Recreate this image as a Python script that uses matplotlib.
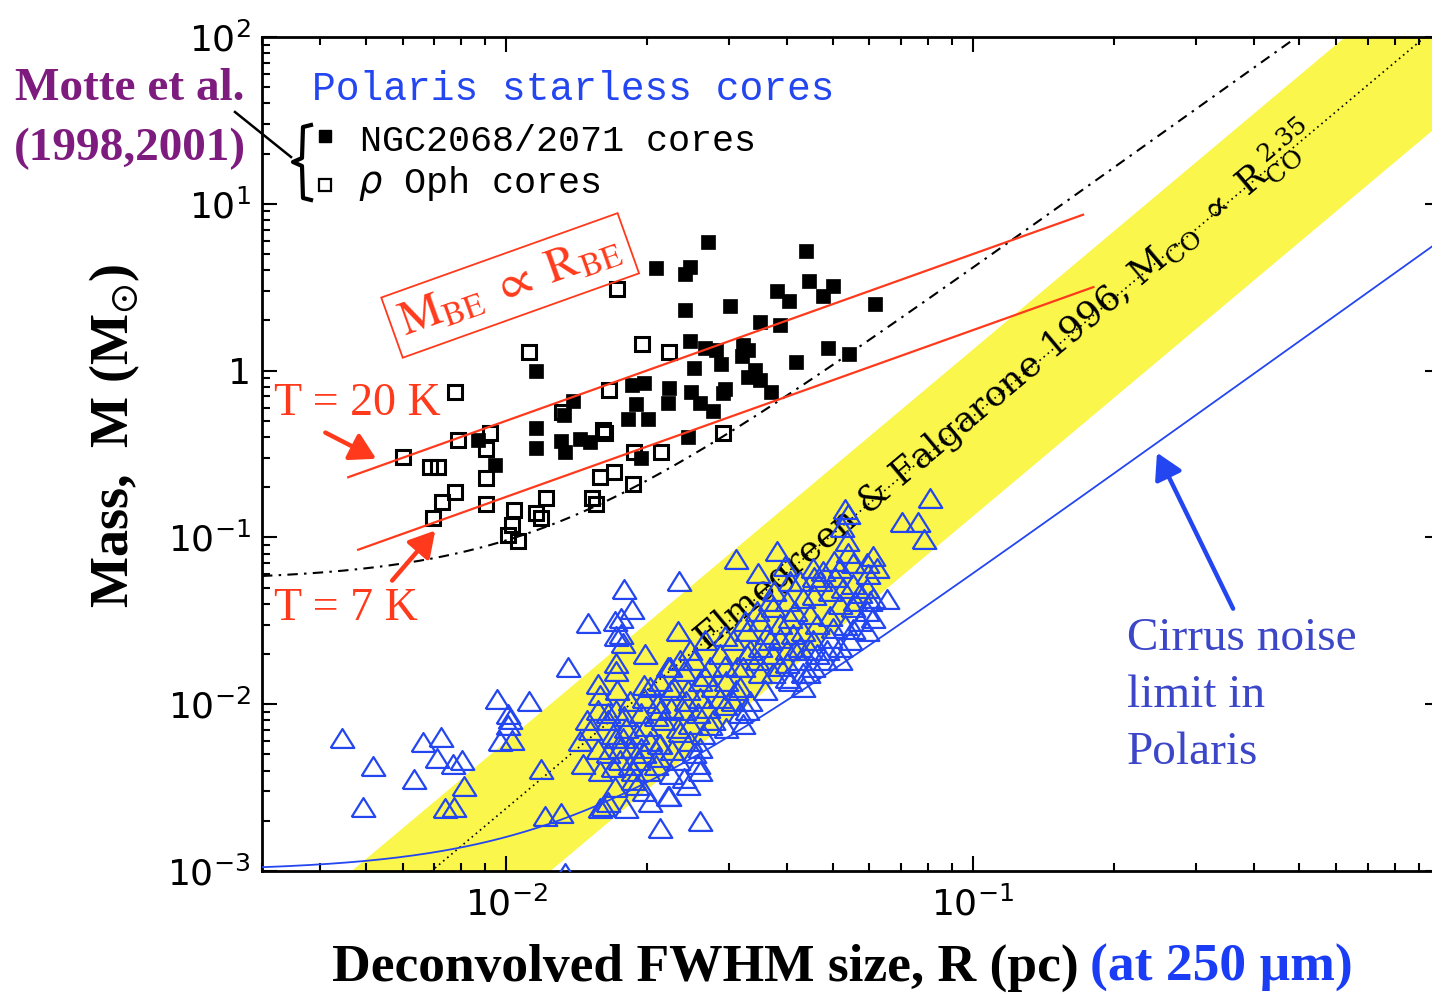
import numpy as np
import matplotlib.pyplot as plt
from matplotlib.lines import Line2D
from matplotlib.ticker import NullFormatter

W, H = 1432, 994

# NGC2068/2071 cores (Motte et al.): FWHM size R [pc], mass M [Msun]
ngc_R = [0.0270, 0.0439, 0.0209, 0.0247, 0.0241, 0.0446, 0.0501, 0.0477, 0.0380, 0.0404,
         0.0617, 0.0241, 0.0302, 0.0350, 0.0386, 0.0247, 0.0266, 0.0281, 0.0322, 0.0330,
         0.0320, 0.0288, 0.0252, 0.0489, 0.0542, 0.0418, 0.0341, 0.0330, 0.0350, 0.0369,
         0.0294, 0.0249, 0.0260, 0.0223, 0.0222, 0.0278, 0.0197, 0.0186, 0.0190, 0.0182,
         0.0201, 0.0245, 0.0194, 0.0116, 0.0139, 0.0133, 0.0116, 0.0116, 0.0131, 0.0134,
         0.0144, 0.0151, 0.0087, 0.00947, 0.0292]
ngc_M = [5.9, 5.2, 4.1, 4.2, 3.8, 3.46, 3.2, 2.8, 3.0, 2.6,
         2.5, 2.3, 2.45, 1.96, 1.88, 1.51, 1.36, 1.32, 1.43, 1.32,
         1.22, 1.09, 1.03, 1.36, 1.25, 1.13, 1.01, 0.92, 0.88, 0.74,
         0.78, 0.74, 0.64, 0.79, 0.64, 0.57, 0.84, 0.82, 0.63, 0.515,
         0.51, 0.40, 0.30, 0.99, 0.66, 0.545, 0.45, 0.345, 0.38, 0.326,
         0.39, 0.375, 0.385, 0.27, 0.735]

# rho Oph cores (Motte et al.)
oph_R = [0.0173, 0.0195, 0.0112, 0.0223, 0.00778, 0.0166, 0.0132, 0.0161, 0.0079, 0.00924,
         0.00905, 0.00602, 0.00687, 0.00715, 0.00905, 0.00778, 0.00729, 0.00697, 0.00905, 0.0122,
         0.0104, 0.0103, 0.0101, 0.0106, 0.0116, 0.0119, 0.0153, 0.0156, 0.0159, 0.0170,
         0.0187, 0.0188, 0.0215, 0.0291, 0.0163]
oph_M = [3.1, 1.45, 1.30, 1.30, 0.74, 0.77, 0.567, 0.443, 0.385, 0.42,
         0.338, 0.305, 0.266, 0.263, 0.228, 0.186, 0.162, 0.130, 0.158, 0.173,
         0.145, 0.118, 0.103, 0.0945, 0.141, 0.130, 0.173, 0.158, 0.231, 0.248,
         0.21, 0.326, 0.326, 0.425, 0.425]

# Polaris starless cores (250 um)
pol_R = [0.00446, 0.00519, 0.00494, 0.00664, 0.00726, 0.00711, 0.0077, 0.00805, 0.00635, 0.00813,
         0.0074, 0.00774, 0.00957, 0.0112, 0.0101, 0.0102, 0.0101, 0.00971, 0.0103, 0.0119,
         0.0121, 0.0131, 0.0159, 0.0161, 0.0134, 0.015, 0.0136, 0.0179, 0.0234, 0.0186,
         0.0176, 0.0171, 0.0172, 0.0176, 0.0178, 0.0233, 0.0198, 0.0172, 0.0157, 0.0173,
         0.0197, 0.0224, 0.0236, 0.0157, 0.0149, 0.0165, 0.0172, 0.0144, 0.0157, 0.0146,
         0.0159, 0.0169, 0.0172, 0.0178, 0.0186, 0.0192, 0.0201, 0.0212, 0.0227, 0.0191,
         0.0203, 0.0223, 0.0181, 0.0214, 0.026, 0.0245, 0.0258, 0.0252, 0.0233, 0.026,
         0.024, 0.0225, 0.0165, 0.0172,
         0.081, 0.0705, 0.0762, 0.0785, 0.0532, 0.054, 0.038, 0.031, 0.0347, 0.0611,
         0.0593, 0.0623, 0.0596, 0.0654, 0.0524, 0.0537, 0.054, 0.0504, 0.0519, 0.0553,
         0.0455, 0.0477, 0.0426, 0.0406, 0.0396, 0.0494, 0.0527, 0.0553, 0.0593, 0.0573,
         0.0611, 0.0519, 0.0553, 0.0593, 0.0573, 0.0611, 0.0593, 0.0553, 0.0432, 0.0448,
         0.0464, 0.0494, 0.0501, 0.040, 0.0373, 0.0406, 0.0386, 0.0345, 0.035, 0.0328,
         0.0362, 0.0386, 0.0412, 0.0432, 0.0455, 0.0426, 0.0464, 0.0487, 0.0519, 0.0519,
         0.040, 0.0373, 0.040, 0.0426, 0.0455, 0.0443, 0.0406, 0.0432, 0.035, 0.0328,
         0.0345, 0.0322, 0.035, 0.0373, 0.0306, 0.0287, 0.0312, 0.0296, 0.0317, 0.0273,
         0.026, 0.0277, 0.0287, 0.0306, 0.0328, 0.0317, 0.0252, 0.024, 0.0222, 0.0214,
         0.0229, 0.0245, 0.026, 0.027, 0.0203, 0.0197, 0.0211, 0.0225, 0.024, 0.0257,
         0.0277, 0.0217, 0.0233, 0.0248, 0.0264, 0.0248, 0.026, 0.0296, 0.0322, 0.0194,
         0.0181, 0.0191, 0.0203, 0.0194, 0.0211, 0.0165, 0.0169, 0.0175, 0.0165, 0.0175,
         0.0187, 0.0197, 0.0187, 0.0197, 0.0222, 0.040, 0.0432,
         0.0375, 0.047, 0.0457, 0.0416, 0.0367, 0.0333, 0.0294, 0.0266, 0.0243, 0.0214,
         0.0199, 0.0179,
         0.0266, 0.0248, 0.0294, 0.0325, 0.0367, 0.0457, 0.0506, 0.0559, 0.0545, 0.0482,
         0.0386, 0.0358, 0.0333, 0.0294, 0.0273, 0.0236, 0.0214, 0.0209, 0.0184, 0.0171,
         0.0151, 0.0159, 0.0184, 0.0209, 0.0225, 0.0310, 0.0416, 0.0448, 0.0494, 0.0532,
         0.0602]
pol_M = [0.0063, 0.00428, 0.00243, 0.00597, 0.00639, 0.00478, 0.0044, 0.00465, 0.00358, 0.00325,
         0.0024, 0.00243, 0.0108, 0.0105, 0.0087, 0.0081, 0.00755, 0.00605, 0.0061, 0.00406,
         0.00214, 0.00224, 0.00239, 0.00246, 0.00097, 0.0308, 0.0166, 0.0493, 0.0551, 0.0374,
         0.033, 0.0317, 0.0258, 0.0265, 0.0234, 0.0276, 0.0201, 0.0176, 0.0133, 0.0121,
         0.0131, 0.0166, 0.0183, 0.0092, 0.0080, 0.0088, 0.0092, 0.00605, 0.0054, 0.0044,
         0.0040, 0.0042, 0.0063, 0.0063, 0.0055, 0.0046, 0.0040, 0.0058, 0.0053, 0.0033,
         0.0026, 0.0028, 0.0024, 0.0018, 0.0020, 0.0033, 0.0044, 0.0051, 0.0046, 0.0040,
         0.0036, 0.0038, 0.0026, 0.0159,
         0.173, 0.123, 0.123, 0.098, 0.149, 0.139, 0.0833, 0.0746, 0.0615, 0.0777,
         0.0706, 0.066, 0.0606, 0.043, 0.115, 0.0957, 0.081, 0.0726, 0.066, 0.070,
         0.066, 0.0632, 0.0551, 0.0551, 0.0678, 0.048, 0.050, 0.0528, 0.050, 0.0461,
         0.0436, 0.040, 0.038, 0.0364, 0.0317, 0.033, 0.0276, 0.0284, 0.0436, 0.0349,
         0.0304, 0.0251, 0.0288, 0.0418, 0.038, 0.033, 0.0304, 0.0364, 0.0317, 0.0276,
         0.0265, 0.0251, 0.0265, 0.0276, 0.0241, 0.0219, 0.0201, 0.021, 0.0219, 0.0183,
         0.021, 0.0201, 0.0176, 0.0183, 0.0166, 0.0153, 0.0138, 0.0126, 0.0219, 0.0201,
         0.0183, 0.0166, 0.0153, 0.0153, 0.0241, 0.0201, 0.0166, 0.0138, 0.0126, 0.0166,
         0.0138, 0.0126, 0.0109, 0.0105, 0.0092, 0.0088, 0.0183, 0.0159, 0.0166, 0.0138,
         0.0126, 0.0121, 0.0109, 0.0095, 0.0126, 0.0109, 0.0101, 0.0095, 0.0092, 0.0088,
         0.0080, 0.0080, 0.0072, 0.0076, 0.0066, 0.0060, 0.0055, 0.0072, 0.0076, 0.0088,
         0.0072, 0.0066, 0.0060, 0.0055, 0.0048, 0.0080, 0.0066, 0.0055, 0.0051, 0.0046,
         0.0040, 0.0051, 0.0035, 0.0030, 0.0028, 0.0144, 0.0153,
         0.048, 0.055, 0.045, 0.0364, 0.0241, 0.021, 0.0169, 0.0148, 0.0105, 0.0092,
         0.0074, 0.0085,
         0.0241, 0.021, 0.0258, 0.0317, 0.0418, 0.0578, 0.0578, 0.0418, 0.0241, 0.0183,
         0.0169, 0.0121, 0.0105, 0.0099, 0.0075, 0.0068, 0.0058, 0.0043, 0.0043, 0.0032,
         0.0070, 0.0114, 0.0105, 0.0085, 0.0121, 0.0121, 0.021, 0.021, 0.034, 0.0297,
         0.0418]

# model relations
be_norm_20K = 50.0      # M_BE = c * R
be_norm_7K = 17.5
be_R_20K = [0.00459, 0.172]
be_R_7K = [0.00482, 0.181]
ef_index = 2.35         # Elmegreen & Falgarone 1996
ef_norm, ef_lo, ef_hi = 119.0, 30.0, 300.0
cirrus_M0, cirrus_k = 1.0e-3, 6.0     # cirrus noise limit M0 + k R^2
sens_M0, sens_k = 0.055, 410.0        # Motte et al. completeness curve

red = '#ff3a1c'
blue = '#2346f0'
yellow = '#faf64c'
purple = '#7d1b7e'


def fxy(px, py):
    return px / W, 1 - py / H


fig = plt.figure(figsize=(W / 100, H / 100), dpi=100)
ax = fig.add_axes([262 / W, 123 / H, 1178 / W, 834 / H])
ax.set_xscale('log')
ax.set_yscale('log')
ax.set_xlim(0.003, 1.0)
ax.set_ylim(1e-3, 1e2)

rr = np.logspace(np.log10(0.003), 0, 400)
ax.fill_between(rr, ef_lo * rr ** ef_index, ef_hi * rr ** ef_index,
                color=yellow, lw=0, zorder=1)
ax.plot(rr, ef_norm * rr ** ef_index, color='k', lw=1.2, ls=(0, (1, 2.2)), zorder=2)

ax.plot(rr, cirrus_M0 + cirrus_k * rr ** 2, color=blue, lw=1.3, zorder=5)
ax.plot(rr, sens_M0 + sens_k * rr ** 2, color='k', lw=1.5,
        ls=(0, (5, 3, 1.2, 3)), zorder=7)

r20 = np.array(be_R_20K)
r7 = np.array(be_R_7K)
ax.plot(r20, be_norm_20K * r20, color=red, lw=1.6, zorder=7)
ax.plot(r7, be_norm_7K * r7, color=red, lw=1.6, zorder=7)

tri = [(-1, -0.8), (1, -0.8), (0, 0.8), (-1, -0.8)]
ax.plot(pol_R, pol_M, ls='none', marker=tri, ms=17, mfc='none', mec=blue,
        mew=1.6, zorder=4)
ax.plot(ngc_R, ngc_M, ls='none', marker='s', ms=9.5, color='k', mew=0.5, zorder=6)
ax.plot(oph_R, oph_M, ls='none', marker='s', ms=9.5, mfc='none', mec='k',
        mew=2.2, zorder=6)

# Elmegreen & Falgarone label along the band
r_lab = 0.118
ang = np.degrees(np.arctan(ef_index * (834 / 5) / 467))
ax.annotate(r'Elmegreen & Falgarone 1996, $\mathrm{M_{CO}}\ \propto\ \mathrm{R_{CO}^{\ 2.35}}$',
            xy=(r_lab, ef_norm * r_lab ** ef_index), xytext=(3.5, -4.5),
            textcoords='offset points', rotation=ang, rotation_mode='anchor',
            ha='center', va='baseline', fontsize=26, family='DejaVu Serif',
            math_fontfamily='dejavuserif', zorder=3)

# Bonnor-Ebert box
be_ang = np.degrees(np.arctan((834 / 5) / 467))
ax.text(0.0102, 3.24, r'$\mathrm{M_{BE}}\ \propto\ \mathrm{R_{BE}}$', color=red,
        fontsize=34, math_fontfamily='stix', rotation=be_ang, rotation_mode='anchor',
        ha='center', va='center', zorder=8,
        bbox=dict(boxstyle='square,pad=0.2', fc='none', ec=red, lw=1.3))

arw = dict(arrowstyle='-|>,head_length=0.7,head_width=0.4', lw=3.2,
           shrinkA=0, shrinkB=0, mutation_scale=22)
ax.annotate('', xy=(0.00527, 0.296), xytext=(0.0041, 0.425),
            arrowprops=dict(color=red, **arw), zorder=8)
ax.annotate('', xy=(0.00705, 0.110), xytext=(0.0057, 0.0551),
            arrowprops=dict(color=red, **arw), zorder=8)
ax.annotate('', xy=(0.2477, 0.322), xytext=(0.3605, 0.0374),
            arrowprops=dict(color=blue, **arw), zorder=8)

# ticks and frame
ax.set_xticks([0.01, 0.1], labels=[r'$10^{-2}$', r'$10^{-1}$'])
ax.set_yticks([1e-3, 1e-2, 1e-1, 1, 10, 100],
              labels=[r'$10^{-3}$', r'$10^{-2}$', r'$10^{-1}$', '1', r'$10^{1}$', r'$10^{2}$'])
ax.xaxis.set_minor_formatter(NullFormatter())
ax.yaxis.set_minor_formatter(NullFormatter())
ax.tick_params(which='both', direction='in', top=True, right=True, width=1.5)
ax.tick_params(which='major', length=11, labelsize=26)
ax.tick_params(axis='x', which='major', pad=11)
ax.tick_params(axis='y', which='major', pad=8)
ax.tick_params(which='minor', length=6)
for s in ax.spines.values():
    s.set_linewidth(2)

# legend block
fig.text(*fxy(312, 100), 'Polaris starless cores', family='Liberation Mono', size=28.5,
         color=blue, ha='left', va='baseline')
fig.text(*fxy(360, 151), 'NGC2068/2071 cores', family='Liberation Mono', size=26.5,
         color='k', ha='left', va='baseline')
fig.text(*fxy(358, 193), r'$\rho$ Oph cores', family='Liberation Mono', size=26.5,
         color='k', ha='left', va='baseline')
fig.add_artist(Line2D([fxy(325, 136)[0]], [fxy(325, 136)[1]], marker='s', ms=8.5,
                      color='k', ls='none'))
fig.add_artist(Line2D([fxy(325, 185)[0]], [fxy(325, 185)[1]], marker='s', ms=8,
                      mfc='none', mec='k', mew=1.6, ls='none'))
brace = [fxy(*p) for p in [(311, 125), (303, 127), (302, 158), (293, 162),
                           (302, 166), (303, 198), (311, 200)]]
fig.add_artist(Line2D([p[0] for p in brace], [p[1] for p in brace], color='k', lw=3))
fig.add_artist(Line2D([fxy(235, 112)[0], fxy(291, 157)[0]],
                      [fxy(235, 112)[1], fxy(291, 157)[1]], color='k', lw=1.8))

fig.text(*fxy(130, 100), 'Motte et al.', family='Liberation Serif', weight='bold',
         size=34, color=purple, ha='center', va='baseline')
fig.text(*fxy(130, 160), '(1998,2001)', family='Liberation Serif', weight='bold',
         size=34, color=purple, ha='center', va='baseline')

fig.text(*fxy(274, 415), 'T = 20 K', family='Liberation Serif', size=33, color=red,
         ha='left', va='baseline')
fig.text(*fxy(274, 620), 'T = 7 K', family='Liberation Serif', size=33, color=red,
         ha='left', va='baseline')

for txt, yb in [('Cirrus noise', 650), ('limit in', 707), ('Polaris', 764)]:
    fig.text(*fxy(1127, yb), txt, family='Liberation Serif', size=34, color='#3c46c8',
             ha='left', va='baseline')

# axis titles
fig.text(*fxy(1079, 981), 'Deconvolved FWHM size, R (pc)', family='Liberation Serif',
         weight='bold', size=38.5, ha='right', va='baseline')
fig.text(*fxy(1090, 981), '(at 250 \u00b5m)', family='Liberation Serif',
         weight='bold', size=38.5, color='#1a3cf5', ha='left', va='baseline')
fig.text(*fxy(128, 436), r'Mass,  M (M$_{\odot}$)', family='Liberation Serif',
         weight='bold', size=39, rotation=90, rotation_mode='anchor',
         ha='center', va='baseline', math_fontfamily='stix')

fig.savefig('out.png', dpi=100)
